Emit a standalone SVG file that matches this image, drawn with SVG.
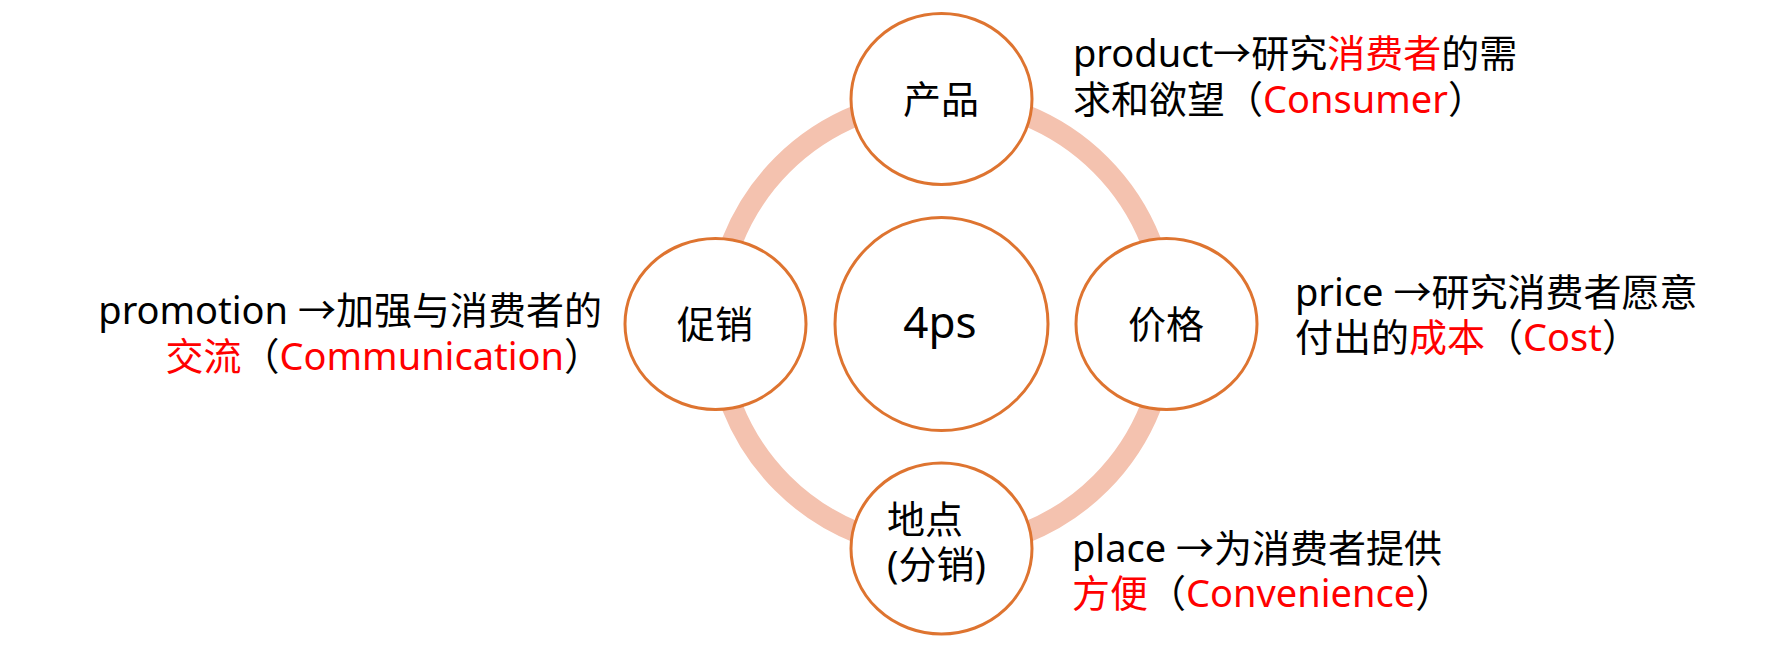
<svg xmlns="http://www.w3.org/2000/svg" width="1780" height="648" viewBox="0 0 1780 648">
<style>
.ring{fill:none;stroke:#F4C2AF;stroke-width:21}
.node{fill:#ffffff;stroke:#DE7430;stroke-width:3}
.t{font-family:"Noto Sans","Noto Sans CJK SC",sans-serif;font-size:38px;fill:#000000}
.c{font-family:"Noto Sans CJK SC",sans-serif}
.r{fill:#FF0000}
.mid{text-anchor:middle}
.end{text-anchor:end}
</style>
<rect width="1780" height="648" fill="#ffffff"/>
<g id="connectors">
<circle class="ring" cx="941.5" cy="324" r="225"/>
</g>
<g id="node-center">
<circle class="node" cx="941.5" cy="324" r="106.5"/>
<text class="t mid" x="940" y="338" style="font-size:44px">4ps</text>
</g>
<g id="node-product">
<ellipse class="node" cx="941.5" cy="99" rx="90.5" ry="85.5"/>
<text class="t mid" x="941" y="113">产品</text>
</g>
<g id="node-price">
<ellipse class="node" cx="1166.5" cy="324" rx="90.5" ry="85.5"/>
<text class="t mid" x="1166" y="338">价格</text>
</g>
<g id="node-place">
<ellipse class="node" cx="941.5" cy="548.5" rx="90.5" ry="85.5"/>
<text class="t" x="887" y="533">地点</text>
<text class="t" x="887" y="578">(分销)</text>
</g>
<g id="node-promotion">
<ellipse class="node" cx="715.5" cy="324" rx="90.5" ry="85.5"/>
<text class="t mid" x="715" y="338">促销</text>
</g>
<g id="note-product">
<text class="t" x="1073" y="67">product<tspan class="c">→</tspan>研究<tspan class="r">消费者</tspan>的需</text>
<text class="t" x="1073" y="113">求和欲望<tspan class="c">（</tspan><tspan class="r">Consumer</tspan><tspan class="c">）</tspan></text>
</g>
<g id="note-price">
<text class="t" x="1295" y="306">price <tspan class="c">→</tspan>研究消费者愿意</text>
<text class="t" x="1295" y="351">付出的<tspan class="r">成本</tspan><tspan class="c">（</tspan><tspan class="r">Cost</tspan><tspan class="c">）</tspan></text>
</g>
<g id="note-place">
<text class="t" x="1072" y="562">place <tspan class="c">→</tspan>为消费者提供</text>
<text class="t" x="1072" y="607"><tspan class="r">方便</tspan><tspan class="c">（</tspan><tspan class="r">Convenience</tspan><tspan class="c">）</tspan></text>
</g>
<g id="note-promotion">
<text class="t end" x="602" y="324">promotion <tspan class="c">→</tspan>加强与消费者的</text>
<text class="t end" x="602" y="370"><tspan class="r">交流</tspan><tspan class="c">（</tspan><tspan class="r">Communication</tspan><tspan class="c">）</tspan></text>
</g>
</svg>
